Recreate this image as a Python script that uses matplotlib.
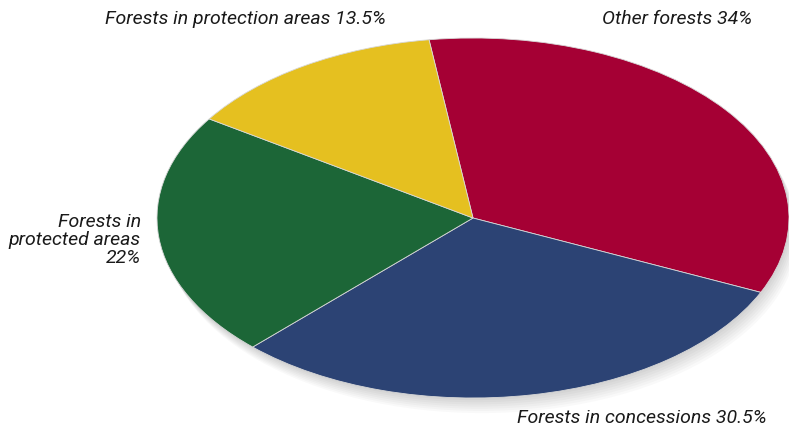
import matplotlib.pyplot as plt
from matplotlib.patches import Ellipse

labels = ["Other forests", "Forests in concessions", "Forests in protected areas", "Forests in protection areas"]
shares = [34, 30.5, 22, 13.5]
colors = ["#A50034", "#2C4374", "#1C6637", "#E5C020"]

W, H = 789, 429
cx, cy = 473, 218      # pie centre in pixels (from top)
rx, ry = 316, 180      # ellipse radii in pixels

fig = plt.figure(figsize=(W / 100, H / 100), dpi=100)
ax = fig.add_axes([0, 0, 1, 1])

# soft shadow under the pie
for i in range(8):
    ax.add_patch(Ellipse((0.004 * i, -0.012 * i), 2.0, 2.0, color="black",
                         alpha=0.025, lw=0, zorder=0))

ax.pie(shares, colors=colors, startangle=98, counterclock=False,
       radius=1, center=(0, 0),
       wedgeprops=dict(edgecolor="#d8d8d8", linewidth=0.6, zorder=2))
ax.set_aspect("auto")
ax.set_xlim(-cx / rx, (W - cx) / rx)
ax.set_ylim(-(H - cy) / ry, cy / ry)
ax.axis("off")

font = dict(family=["Roboto", "DejaVu Sans"], style="italic",
            fontsize=14, color="#1a1a1a")

def px(x, y):
    return x / W, 1 - y / H

fig.text(*px(105, 19), "Forests in protection areas 13.5%", ha="left", va="center", **font)
fig.text(*px(602, 19), "Other forests 34%", ha="left", va="center", **font)
fig.text(*px(141, 240), "Forests in\nprotected areas\n22%", ha="right", va="center",
         linespacing=1.0, multialignment="right", **font)
fig.text(*px(517, 418), "Forests in concessions 30.5%", ha="left", va="center", **font)

fig.savefig("out.png", dpi=100)
